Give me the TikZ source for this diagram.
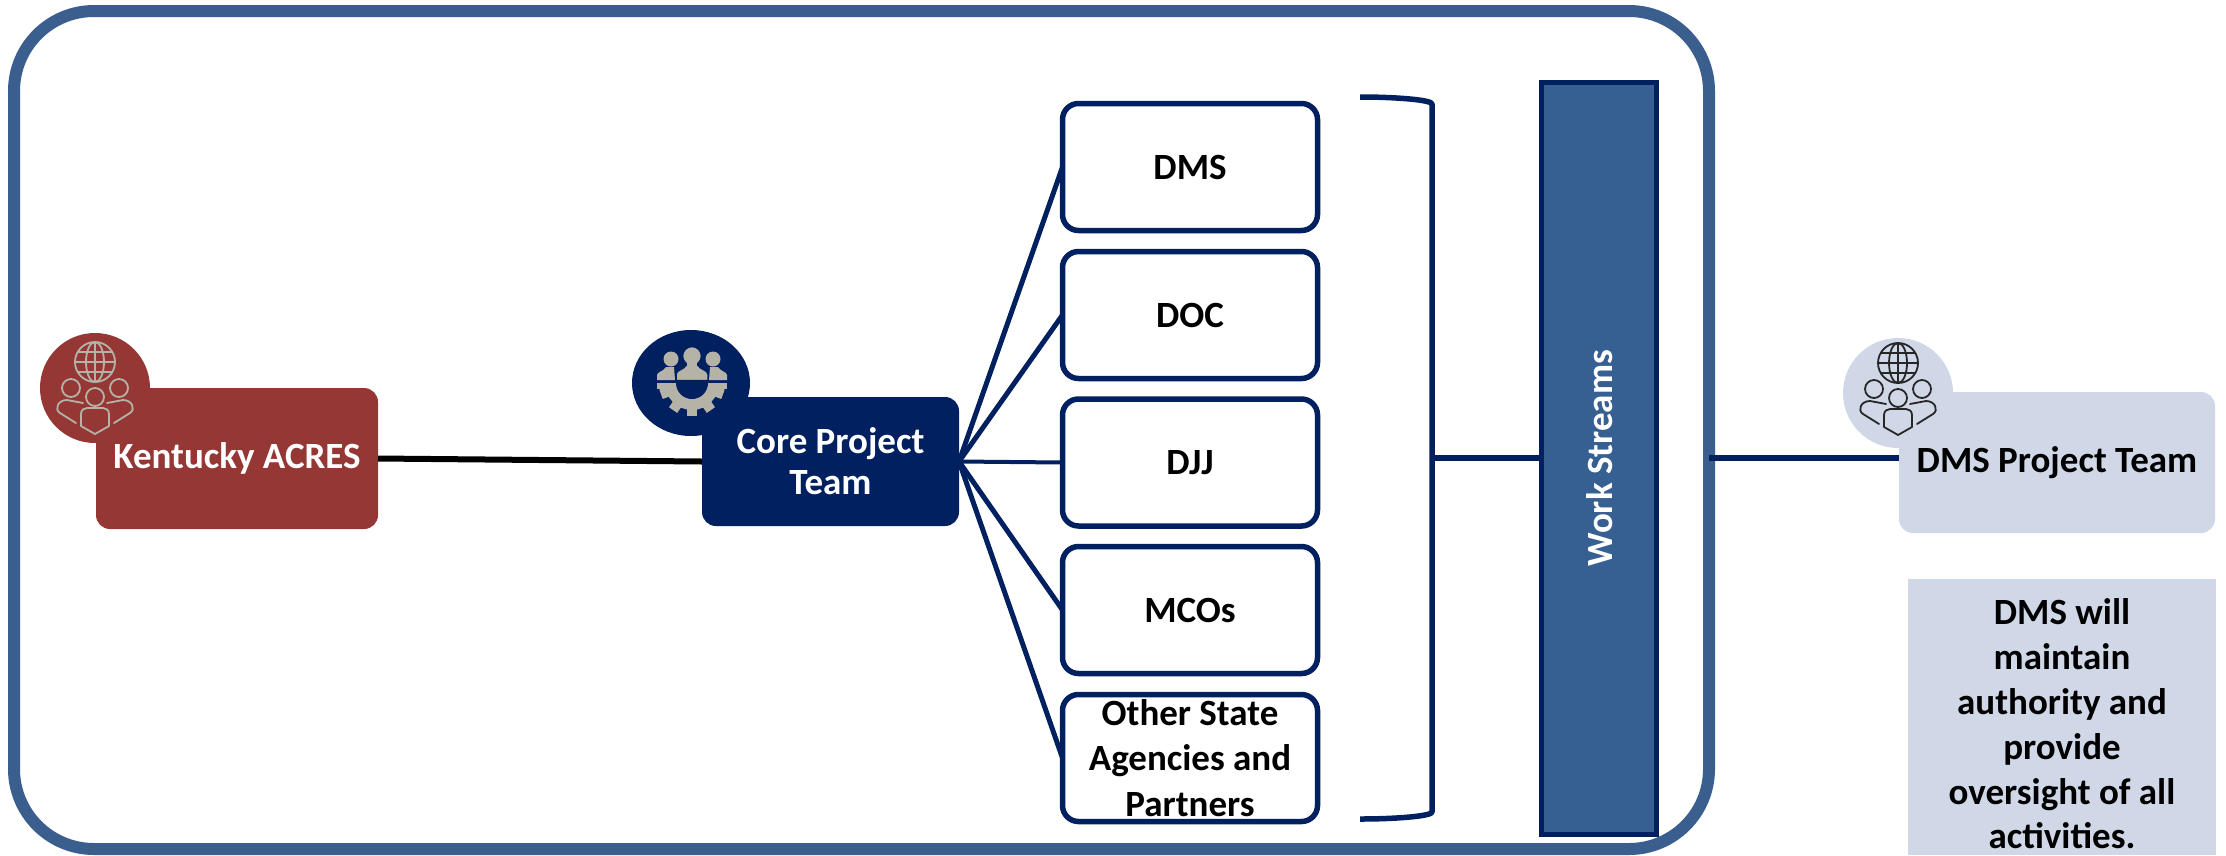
\documentclass[tikz,border=0pt]{standalone}
\usepackage{fontspec}
\setmainfont{Carlito}
\definecolor{navy}{HTML}{002060}
\definecolor{framec}{HTML}{3A5F8E}
\definecolor{wsfill}{HTML}{376092}
\definecolor{acres}{HTML}{953735}
\definecolor{pale}{HTML}{D0D8E8}
\definecolor{iconlight}{HTML}{B5B2A8}
\definecolor{icondark}{HTML}{262626}
\tikzset{
  x=1pt,y=-1pt,
  base/.style={outer sep=0pt,inner sep=0pt,align=center,font=\fontsize{37}{45.5}\selectfont\bfseries},
  team/.style={base,rounded corners=14pt},
  member/.style={base,draw=navy,line width=5.5pt,fill=white,rounded corners=16pt,minimum width=255pt,minimum height=127pt},
  link/.style={navy,line width=5pt},
  thick link/.style={navy,line width=6pt},
  iconline/.style={line width=1.8pt,line cap=round,line join=round},
}
\newcommand{\peopleicon}[3]{%
  \begin{scope}[shift={(#1,#2)},iconline,draw=#3]
    \draw (0,-26) circle (20);
    \draw (0,-26) ellipse (9 and 20);
    \draw (0,-46) -- (0,-6);
    \draw (-20,-26) -- (20,-26);
    \draw (-17,-36) -- (17,-36);
    \draw (-17,-16) -- (17,-16);
    \draw (-24,0) circle (9);
    \draw (24,0) circle (9);
    \draw (0,9) circle (9);
    \draw (-14,30) -- (-14,26) .. controls (-14,22) and (-11,20) .. (-8,20) -- (8,20) .. controls (11,20) and (14,22) .. (14,26) -- (14,38) -- (0,46) -- (-14,38) -- cycle;
    \draw (-12,15) -- (-28,12) .. controls (-37,12) and (-41,21) .. (-35,25) -- (-19,35);
    \draw (12,15) -- (28,12) .. controls (37,12) and (41,21) .. (35,25) -- (19,35);
  \end{scope}}
\begin{document}
\begin{tikzpicture}
\useasboundingbox (0,0) rectangle (2226,855);
\fill[white] (0,0) rectangle (2226,855);
\coordinate (bracketmid) at (1432,458);
\node[draw=framec,line width=12pt,rounded corners=80pt,outer sep=0pt,inner sep=0pt,minimum width=1695pt,minimum height=838pt] (frame) at (861.5,430) {};
% circles behind boxes
\fill[acres] (95,388) circle (55);
\fill[navy] (691,383) ellipse (59 and 53);
\fill[pale] (1898,393) circle (55);
% boxes
\node[team,fill=acres,text=white,minimum width=282pt,minimum height=141pt] (acresbox) at (237,458.5) {Kentucky ACRES};
\node[team,fill=navy,text=white,minimum width=257pt,minimum height=129pt,font=\fontsize{37}{41}\selectfont\bfseries] (core) at (830.5,461.5) {Core Project\\Team};
\node[team,fill=pale,text=black,minimum width=316pt,minimum height=141pt] (dmsteam) at (2057,462.5) {DMS Project Team};
\draw[black,line width=6pt] (acresbox.east) -- (core.west);
\node[member] (dms) at (1190,167) {DMS};
\node[member] (doc) at (1190,315) {DOC};
\node[member] (djj) at (1190,462.5) {DJJ};
\node[member] (mcos) at (1190,610) {MCOs};
\node[member] (other) at (1190,758) {Other State\\Agencies and\\Partners};
\draw[link] (core.east) -- (dms.west);
\draw[link] (core.east) -- (doc.west);
\draw[navy,line width=4pt] (core.east) -- (djj.west);
\draw[link] (core.east) -- (mcos.west);
\draw[link] (core.east) -- (other.west);
% bracket
\draw[navy,line width=5.5pt,line join=round] (1360,97) .. controls (1397,97) and (1432,100) .. (1432,104) -- (1432,812) .. controls (1432,816) and (1397,819) .. (1360,819);
% work streams
\node[base,draw=navy,line width=5pt,fill=wsfill,text=white,minimum width=115pt,minimum height=752pt] (ws) at (1599,458) {};
\node[base,text=white,rotate=90] (wslabel) at ([xshift=1pt]ws.center) {Work Streams};
\draw[thick link] (bracketmid) -- (ws.west);
\draw[thick link] (frame.east |- ws.east) -- (ws.east -| dmsteam.west);
% note
\node[outer sep=0pt,inner sep=0pt,fill=pale,minimum width=308pt,minimum height=276pt] (note) at (2062,717) {};
\node[base,text=black,font=\fontsize{37}{44.8}\selectfont\bfseries] (notetext) at (2062,724) {DMS will\\maintain\\authority and\\provide\\oversight of all\\activities.};
% icons
\peopleicon{95}{388}{iconlight}
\peopleicon{1898}{389}{icondark}
\begin{scope}[shift={(692,383)}]
  \foreach \a in {-20,-55,-90,-125,-160}{
    \fill[iconlight,rotate=\a] (22,-5) rectangle (33,5);
  }
  \fill[iconlight] (-27,0) arc[start angle=180,end angle=0,radius=27] -- cycle;
  \fill[navy] (-16,0) arc[start angle=180,end angle=0,radius=16] -- cycle;
  \fill[iconlight] (-35,0) rectangle (-16,6);
  \fill[iconlight] (16,0) rectangle (35,6);
  \fill[iconlight] (-21,-24) circle (7.5);
  \fill[iconlight] (21,-24) circle (7.5);
  \fill[iconlight] (-35,-3) -- (-35,-8) .. controls (-35,-11) and (-28,-12) .. (-26,-16) -- (-18,-16) -- (-17,-3) -- cycle;
  \fill[iconlight] (35,-3) -- (35,-8) .. controls (35,-11) and (28,-12) .. (26,-16) -- (18,-16) -- (17,-3) -- cycle;
  \draw[navy,line width=1.5pt,fill=iconlight] (0,-27) circle (9.5);
  \draw[navy,line width=1.5pt,fill=iconlight] (-16,-2.5) -- (-16,-9) .. controls (-16,-13) and (-7,-14) .. (-6,-18) -- (6,-18) .. controls (7,-14) and (16,-13) .. (16,-9) -- (16,-2.5) -- cycle;
  \fill[iconlight] (-5,-20) rectangle (5,-15);
\end{scope}
\end{tikzpicture}
\end{document}
